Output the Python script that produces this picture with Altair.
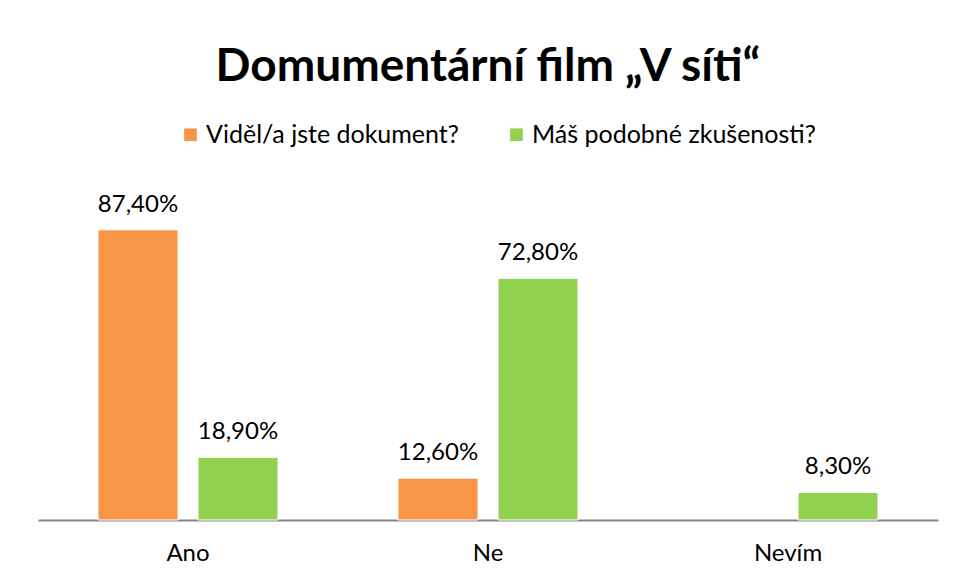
import altair as alt
import pandas as pd

categories = ["Ano", "Ne", "Nevím"]
series = ["Viděl/a jste dokument?", "Máš podobné zkušenosti?"]
videl = [87.40, 12.60, None]
mas = [18.90, 72.80, 8.30]
colors = ["#F79646", "#92D050"]

rows = []
for s, vals in zip(series, [videl, mas]):
    for c, v in zip(categories, vals):
        if v is None:
            continue
        rows.append({"kategorie": c, "serie": s, "hodnota": v,
                     "label": f"{v:.2f}".replace(".", ",") + "%"})
df = pd.DataFrame(rows)

FONT = "Lato"

base = alt.Chart(df).encode(
    x=alt.X("kategorie:N", sort=categories, title=None,
            scale=alt.Scale(paddingInner=0.4, paddingOuter=0.2),
            axis=alt.Axis(labelAngle=0, ticks=False, domainColor="#868686",
                          domainWidth=2, labelFontSize=24, labelColor="#000000",
                          labelFont=FONT, labelPadding=21)),
    xOffset=alt.XOffset("serie:N", sort=series,
                        scale=alt.Scale(paddingInner=0.2, paddingOuter=0)),
    y=alt.Y("hodnota:Q", scale=alt.Scale(domain=[0, 100]), axis=None),
)

bars = base.mark_bar(stroke="#FFFFFF", strokeWidth=1).encode(
    color=alt.Color("serie:N", sort=series,
                    scale=alt.Scale(domain=series, range=colors),
                    legend=alt.Legend(title=None, orient="none", direction="horizontal",
                                      legendX=140, legendY=-66, symbolType="square",
                                      symbolSize=160, symbolStrokeWidth=0,
                                      labelFontSize=25, labelFont=FONT, labelLimit=0,
                                      labelColor="#000000", columnPadding=45,
                                      labelOffset=3))
)

text = base.mark_text(baseline="bottom", dy=-13, fontSize=24, font=FONT,
                      color="#000000").encode(text="label:N")

chart = (bars + text).properties(
    width=900, height=332,
    title=alt.TitleParams("Domumentární film „V síti“", fontSize=46, font=FONT,
                          fontWeight="bold", color="#000000", anchor="middle",
                          offset=31),
    autosize=alt.AutoSizeParams(type="none"),
    padding={"left": 30, "top": 180, "right": 9, "bottom": 53},
).configure_view(stroke=None)

chart.save("out.html", embed_options={"renderer": "svg", "actions": False})
